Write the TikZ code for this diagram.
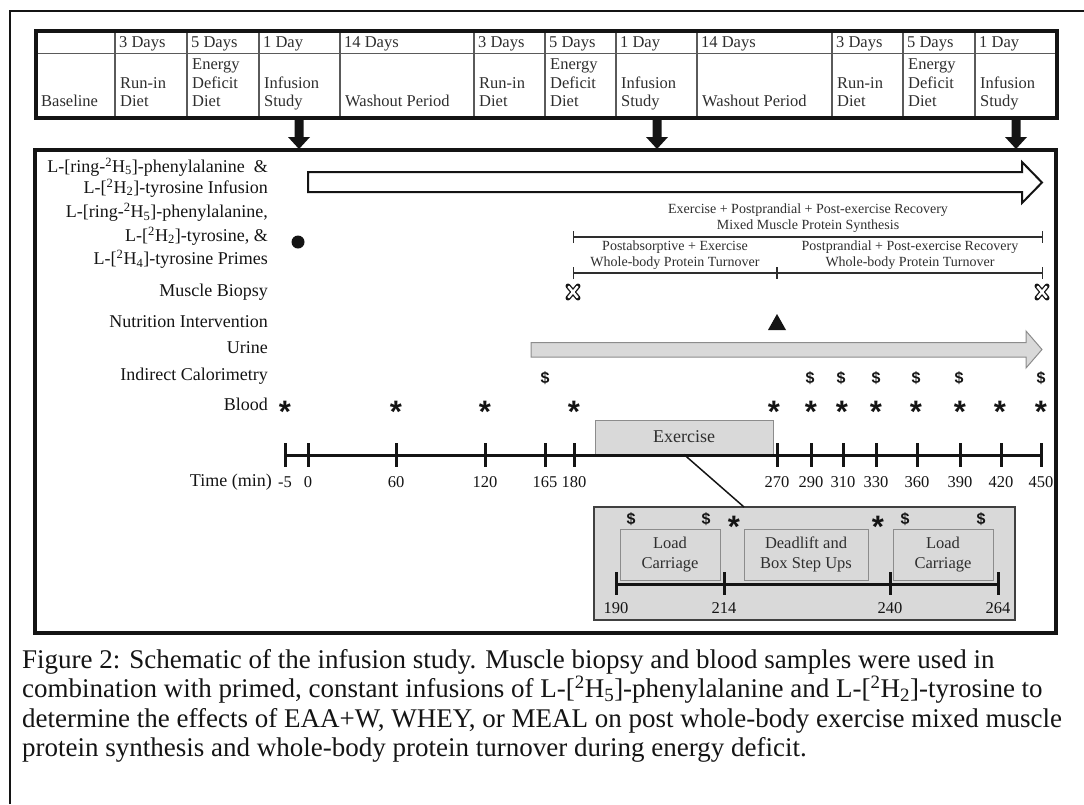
\documentclass[tikz,border=0pt]{standalone}
\usepackage{fontspec}
\setmainfont{Liberation Serif}
\newfontfamily\sansfont{Liberation Sans}
\usetikzlibrary{arrows.meta}
\definecolor{ink}{HTML}{141414}
\definecolor{grautext}{HTML}{2E2E2E}
\definecolor{kastengrau}{HTML}{D9D9D9}
\definecolor{randgrau}{HTML}{8C8C8C}
\definecolor{dunkelgrau}{HTML}{404040}
\definecolor{liniengrau}{HTML}{5A5A5A}
\newcommand{\tabfont}{\fontsize{16.5}{18.5}\selectfont}
\newcommand{\lbl}{\fontsize{18}{21}\selectfont}
\newcommand{\klein}{\fontsize{14}{16}\selectfont}
\newcommand{\mittel}{\fontsize{16.5}{20}\selectfont}
\newcommand{\capfont}{\fontsize{27}{30}\selectfont}
\newcommand{\dollarfont}{\sansfont\bfseries\fontsize{16}{18}\selectfont}
\newcommand{\sternfont}{\sansfont\bfseries\fontsize{31}{33}\selectfont}
\tikzset{kopf/.style={anchor=base west,inner sep=0,text=grautext,font=\tabfont},
  zelle/.style={anchor=south west,inner sep=0,align=left,text depth=4pt,text=grautext,font=\tabfont},
  hilfslinie/.style={liniengrau,line width=1.2pt},
  etikett/.style={anchor=east,inner sep=0,align=right,text=ink,font=\lbl},
  klammer/.style={grautext,line width=1.3pt,{Bar[width=12pt]}-{Bar[width=12pt]}},
  klammertext/.style={inner sep=0,align=center,text=grautext,font=\klein},
  kalo/.style={inner sep=0,text=ink,font=\dollarfont},
  blut/.style={anchor=base,inner sep=0,text=ink,font=\sternfont},
  achse/.style={ink,line width=3pt},
  zeitzahl/.style={inner sep=0,text=ink,font=\tabfont},
  kasten/.style={draw=randgrau,fill=kastengrau,line width=1pt,inner sep=0,align=center,text=grautext,font=\lbl},
  unterbox/.style={draw=randgrau,fill=kastengrau,line width=1pt,inner sep=0,minimum height=51pt,align=center,text=grautext,font=\mittel}}
\newcommand{\pfeilrunter}[1]{\fill[ink] (#1-4.5,118) -- (#1+4.5,118) -- (#1+4.5,137) -- (#1+11,137) -- (#1,149) -- (#1-11,137) -- (#1-4.5,137) -- cycle;}
\newcommand{\biopsie}[2]{%
  \draw[ink,line width=5pt,line cap=round] (#1-5,#2-6) -- (#1+5,#2+6) (#1-5,#2+6) -- (#1+5,#2-6);
  \draw[white,line width=2.4pt,line cap=round] (#1-4.4,#2-5.3) -- (#1+4.4,#2+5.3) (#1-4.4,#2+5.3) -- (#1+4.4,#2-5.3);}
\begin{document}
\begin{tikzpicture}[x=1pt,y=-1pt]
\useasboundingbox (0,0) rectangle (1084,804);
\draw[ink,line width=1.5pt] (10,804) -- (10,11) -- (1084,11);
% Ablauf-Tabelle
\foreach \x in {115,187,259,340,474,545,616,697,832,903,975} \draw[hilfslinie] (\x,31) -- (\x,118);
\draw[liniengrau,line width=1pt] (36,53) -- (1057,53);
\draw[ink,line width=3.5pt] (36,31) rectangle (1057,118);
\foreach \x/\tage [count=\i] in {115/3 Days,187/5 Days,259/1 Day,340/14 Days,474/3 Days,545/5 Days,616/1 Day,697/14 Days,832/3 Days,903/5 Days,975/1 Day}
  \node[kopf] (kopf\i) at (\x+4,47) {\tage};
\foreach \x/\abschnitt [count=\i] in {36/Baseline,115/{Run-in\\Diet},187/{Energy\\Deficit\\Diet},259/{Infusion\\Study},340/Washout Period,474/{Run-in\\Diet},545/{Energy\\Deficit\\Diet},616/{Infusion\\Study},697/Washout Period,832/{Run-in\\Diet},903/{Energy\\Deficit\\Diet},975/{Infusion\\Study}}
  \node[zelle] (zelle\i) at (\x+5,111) {\abschnitt};
\foreach \x in {299,657,1016} \pfeilrunter{\x}
\draw[ink,line width=3.5pt] (35,150) rectangle (1056,633);
% Beschriftung links
\node[etikett] (infusion) at (268,177.5) {L-[ring-\textsuperscript{2}H\textsubscript{5}]-phenylalanine~~\&~\\L-[\textsuperscript{2}H\textsubscript{2}]-tyrosine Infusion};
\node[etikett] (primes) at (268,236) {L-[ring-\textsuperscript{2}H\textsubscript{5}]-phenylalanine,\\[2.5pt]L-[\textsuperscript{2}H\textsubscript{2}]-tyrosine, \&\\[2.5pt]L-[\textsuperscript{2}H\textsubscript{4}]-tyrosine Primes};
\node[etikett] (biopsy) at (268,292) {Muscle Biopsy};
\node[etikett] (nutrition) at (268,322) {Nutrition Intervention};
\node[etikett] (urine) at (268,348) {Urine};
\node[etikett] (calorimetry) at (268,376) {Indirect Calorimetry};
\node[etikett] (blood) at (268,404) {Blood};
\node[etikett] (zeit) at (272,482) {Time (min)};
% Infusion und Primes
\draw[ink,line width=2pt,fill=white] (308,172) -- (1022,172) -- (1022,162) -- (1042,182.5) -- (1022,203) -- (1022,192) -- (308,192) -- cycle;
\fill[ink] (298,242) circle[radius=6.5];
% Messzeitraeume
\node[klammertext] (mps) at (808,218) {Exercise + Postprandial + Post-exercise Recovery\\Mixed Muscle Protein Synthesis};
\draw[klammer] (573,237) -- (1043,237);
\node[klammertext] (postabs) at (675,255) {Postabsorptive + Exercise\\Whole-body Protein Turnover};
\node[klammertext] (postpr) at (910,255) {Postprandial + Post-exercise Recovery\\Whole-body Protein Turnover};
\draw[klammer] (573,273) -- (1043,273);
\draw[grautext,line width=1.3pt] (777,267) -- (777,279);
\biopsie{573}{292}
\biopsie{1042}{292}
\fill[ink] (777,314) -- (786,330) -- (768,330) -- cycle;
\draw[randgrau,line width=1pt,fill=kastengrau] (531,342.5) -- (1026,342.5) -- (1026,331) -- (1042,349.5) -- (1026,368) -- (1026,357) -- (531,357) -- cycle;
\foreach \x [count=\i] in {545,810,841,876,916,959,1041} \node[kalo] (kalo\i) at (\x,378) {\$};
\foreach \x [count=\i] in {285,396,485,574,774,811,842,876,916,960,1000,1041} \node[blut] (blut\i) at (\x,422) {*};
% Zeitachse
\node[kasten,minimum width=178pt,minimum height=34pt] (uebung) at (684,437) {Exercise};
\draw[achse] (285,455) -- (1041,455);
\foreach \x/\t [count=\i] in {285/-5,308/0,396/60,485/120,545/165,574/180,777/270,811/290,843/310,876/330,917/360,960/390,1001/420,1041/450}{
  \draw[achse] (\x,443) -- (\x,467);
  \node[zeitzahl] (t\i) at (\x,482) {\t};}
% Ausschnitt Exercise
\node[draw=dunkelgrau,fill=kastengrau,line width=1.8pt,minimum width=421pt,minimum height=113pt,inner sep=0] (ausschnitt) at (804.5,563.5) {};
\coordinate (zoomziel) at (744,507);
\draw[ink,line width=1.5pt] (uebung.south) -- (zoomziel);
\node[unterbox,minimum width=100pt] (last1) at (670,554.5) {Load\\Carriage};
\node[unterbox,minimum width=124pt] (kreuz) at (806,554.5) {Deadlift and\\Box Step Ups};
\node[unterbox,minimum width=100pt] (last2) at (943,554.5) {Load\\Carriage};
\draw[achse] (616,584) -- (998,584);
\foreach \x/\t [count=\i] in {616/190,724/214,890/240,998/264}{
  \draw[achse] (\x,572) -- (\x,595);
  \node[zeitzahl] (u\i) at (\x,608) {\t};}
\foreach \x [count=\i] in {631,706,905,981} \node[kalo] (ukalo\i) at (\x,519) {\$};
\foreach \x [count=\i] in {734,878} \node[blut] (ublut\i) at (\x,537) {*};
% Bildunterschrift
\foreach \zeile [count=\i] in {{Figure 2: Schematic of the infusion study. Muscle biopsy and blood samples were used in},
  {combination with primed, constant infusions of L-[\textsuperscript{2}H\textsubscript{5}]-phenylalanine and L-[\textsuperscript{2}H\textsubscript{2}]-tyrosine to},
  {determine the effects of EAA+W, WHEY, or MEAL on post whole-body exercise mixed muscle},
  {protein synthesis and whole-body protein turnover during energy deficit.}}
  \node[anchor=base west,inner sep=0,text=ink,font=\capfont] (caption\i) at (22,639+29.4*\i) {\zeile};
\end{tikzpicture}
\end{document}
